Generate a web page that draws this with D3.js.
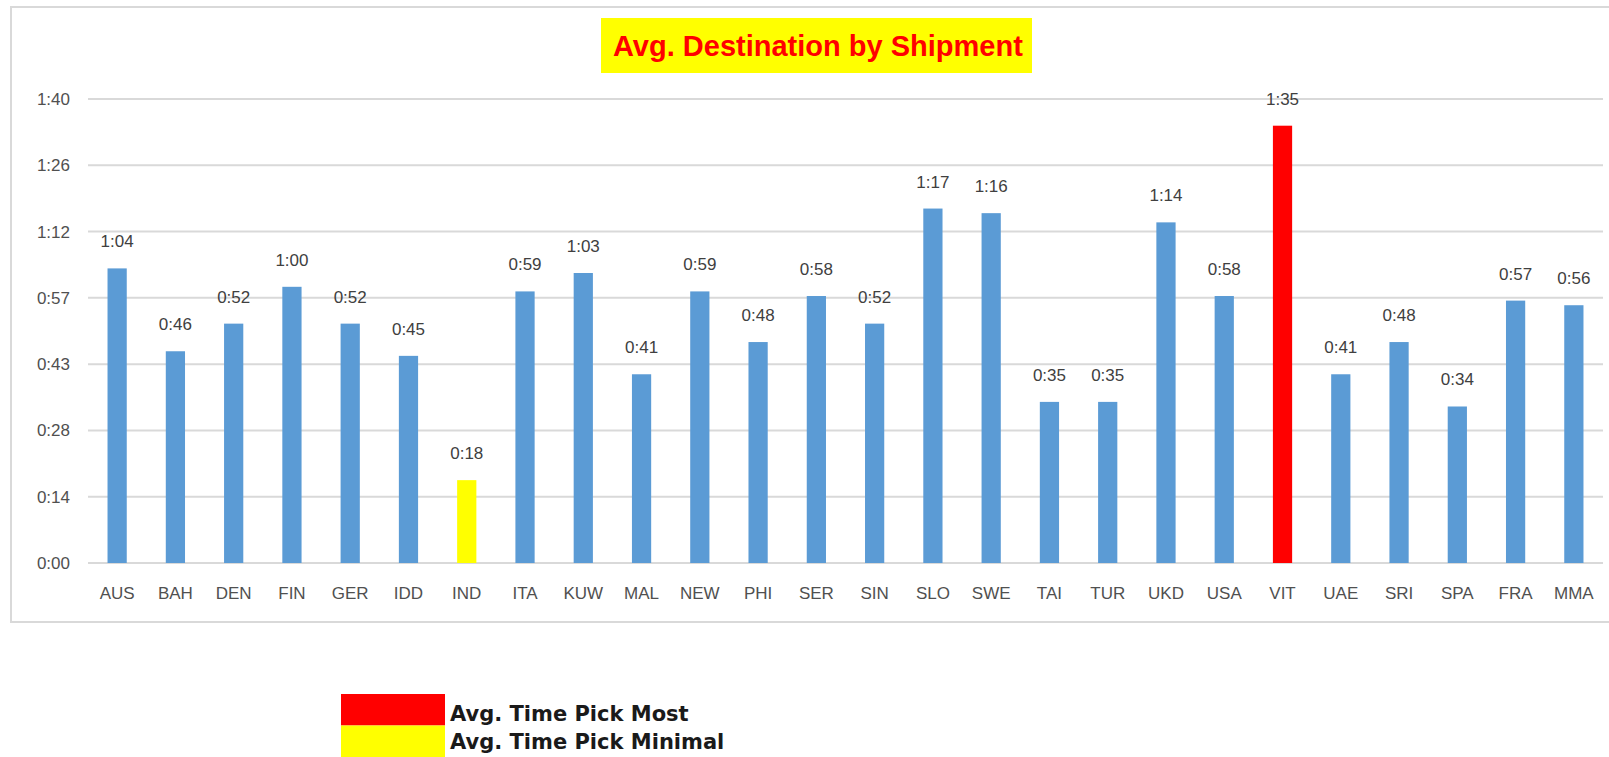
<!DOCTYPE html>
<html>
<head>
<meta charset="utf-8">
<script src="https://cdn.jsdelivr.net/npm/d3@7"></script>
<style>
  html, body { margin: 0; padding: 0; background: #fff; }
  svg { display: block; }
</style>
</head>
<body>
<svg id="chart" width="1609" height="757"></svg>
<script>
// Destination codes along the x axis
const categories = ["AUS","BAH","DEN","FIN","GER","IDD","IND","ITA","KUW","MAL","NEW","PHI","SER",
                    "SIN","SLO","SWE","TAI","TUR","UKD","USA","VIT","UAE","SRI","SPA","FRA","MMA"];
// Average time per destination, in minutes
const avgMinutes = [64,46,52,60,52,45,18,59,63,41,59,48,58,52,77,76,35,35,74,58,95,41,48,34,57,56];
// Axis ticks: multiples of 0.01 day (14.4 minutes)
const yTicks = [0, 14.4, 28.8, 43.2, 57.6, 72, 86.4, 100.8];
// Highlighted destinations
const mostCategory = "VIT";
const minimalCategory = "IND";
const legendLabels = ["Avg. Time Pick Most", "Avg. Time Pick Minimal"];
const titleText = "Avg. Destination by Shipment";

const colors = { bar: "#5B9BD5", most: "#FF0000", minimal: "#FFFF00" };

// h:mm with truncated minutes
const fmt = m => { const t = Math.floor(m + 1e-9); return Math.floor(t / 60) + ":" + String(t % 60).padStart(2, "0"); };

const svg = d3.select("#chart");

// chart frame
svg.append("rect")
  .attr("x", 11).attr("y", 7).attr("width", 1620).attr("height", 615)
  .attr("fill", "#fff").attr("stroke", "#d9d9d9").attr("stroke-width", 2);

const plot = { left: 88, right: 1603, top: 99, bottom: 563 };

const x = d3.scaleBand().domain(categories).range([plot.left, plot.right]).padding(0);
const y = d3.scaleLinear().domain([0, 100.8]).range([plot.bottom, plot.top]);
const barW = x.bandwidth() * 0.33;

// title
const tg = svg.append("g");
tg.append("rect").attr("x", 601).attr("y", 18).attr("width", 431).attr("height", 55).attr("fill", "#FFFF00");
tg.append("text")
  .attr("x", 613).attr("y", 56)
  .attr("font-family", "Liberation Sans, Arial, sans-serif")
  .attr("font-weight", "bold").attr("font-size", 29)
  .attr("fill", "#FF0000")
  .text(titleText);

// gridlines
svg.append("g").selectAll("line").data(yTicks).join("line")
  .attr("x1", plot.left).attr("x2", plot.right)
  .attr("y1", d => y(d)).attr("y2", d => y(d))
  .attr("stroke", "#d9d9d9").attr("stroke-width", 2);

// y axis labels
const yAxis = d3.axisLeft(y).tickValues(yTicks).tickFormat(fmt).tickSize(0).tickPadding(0);
svg.append("g").attr("transform", `translate(70,0)`).call(yAxis)
  .call(g => g.select(".domain").remove())
  .call(g => g.selectAll("text")
    .attr("font-family", "Liberation Sans, Arial, sans-serif")
    .attr("font-size", 17).attr("fill", "#505050"));

// x axis labels
const xAxis = d3.axisBottom(x).tickSize(0).tickPadding(0);
svg.append("g").attr("transform", `translate(0,${plot.bottom + 24})`).call(xAxis)
  .call(g => g.select(".domain").remove())
  .call(g => g.selectAll("text")
    .attr("font-family", "Liberation Sans, Arial, sans-serif")
    .attr("font-size", 17).attr("fill", "#505050"));

const data = categories.map((c, i) => ({ c, v: avgMinutes[i] }));
const fillOf = d => d.c === mostCategory ? colors.most : d.c === minimalCategory ? colors.minimal : colors.bar;

// bars
svg.append("g").selectAll("rect").data(data).join("rect")
  .attr("x", d => x(d.c) + x.bandwidth() / 2 - barW / 2)
  .attr("width", barW)
  .attr("y", d => y(d.v))
  .attr("height", d => y(0) - y(d.v))
  .attr("fill", fillOf);

// value labels
svg.append("g").selectAll("text").data(data).join("text")
  .attr("x", d => x(d.c) + x.bandwidth() / 2)
  .attr("y", d => y(d.v) - 21)
  .attr("text-anchor", "middle")
  .attr("font-family", "Liberation Sans, Arial, sans-serif")
  .attr("font-size", 17).attr("fill", "#404040")
  .text(d => fmt(d.v));

// legend
const legend = svg.append("g");
const legendColors = [colors.most, colors.minimal];
legendLabels.forEach((lab, i) => {
  legend.append("rect")
    .attr("x", 341).attr("y", 694 + i * 31.5).attr("width", 104).attr("height", 31.5)
    .attr("fill", legendColors[i]);
  legend.append("text")
    .attr("x", 450).attr("y", 721 + i * 28)
    .attr("font-family", "DejaVu Sans, Verdana, sans-serif")
    .attr("font-weight", "bold").attr("font-size", 21)
    .attr("fill", "#1a1a1a")
    .text(lab);
});
</script>
</body>
</html>
